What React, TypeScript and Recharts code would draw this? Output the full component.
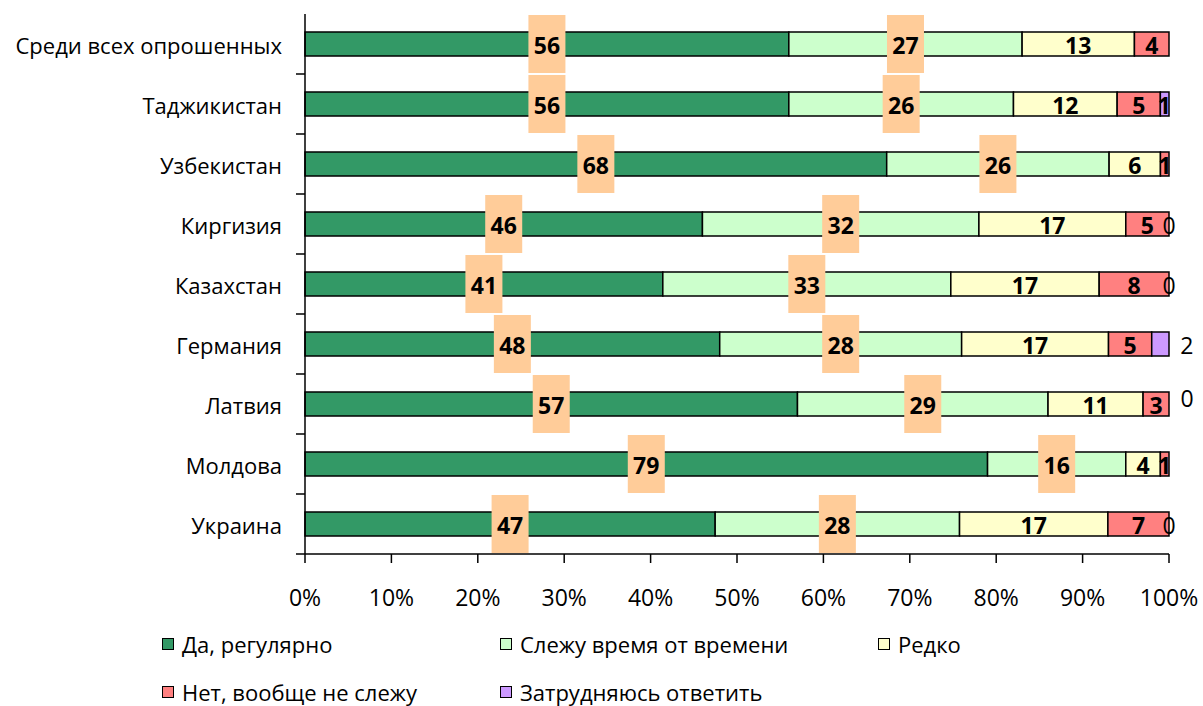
import { BarChart, Bar, XAxis, YAxis, LabelList } from "recharts"

// Категории и доли ответов (%)
const categories = [
  "Среди всех опрошенных",
  "Таджикистан",
  "Узбекистан",
  "Киргизия",
  "Казахстан",
  "Германия",
  "Латвия",
  "Молдова",
  "Украина",
]
const regularly = [56, 56, 68, 46, 41, 48, 57, 79, 47]
const sometimes = [27, 26, 26, 32, 33, 28, 29, 16, 28]
const rarely = [13, 12, 6, 17, 17, 17, 11, 4, 17]
const never = [4, 5, 1, 5, 8, 5, 3, 1, 7]
const unsure = [0, 1, 0, 0, 0, 2, 0, 0, 0]
// подписи последнего ряда (пусто = без подписи)
const unsureLabels = ["", "1", "", "0", "0", "2", "0", "", "0"]
const xTicks = [0, 0.1, 0.2, 0.3, 0.4, 0.5, 0.6, 0.7, 0.8, 0.9, 1]

const series = [
  { key: "regularly", name: "Да, регулярно", color: "#339966" },
  { key: "sometimes", name: "Слежу время от времени", color: "#CCFFCC" },
  { key: "rarely", name: "Редко", color: "#FFFFCC" },
  { key: "never", name: "Нет, вообще не слежу", color: "#FF8080" },
  { key: "unsure", name: "Затрудняюсь ответить", color: "#CC99FF" },
]

const data = categories.map((name, i) => ({
  name,
  regularly: regularly[i],
  sometimes: sometimes[i],
  rarely: rarely[i],
  never: never[i],
  unsure: unsure[i],
  unsureLabel: unsureLabels[i],
}))

const FONT = "'Open Sans', 'Noto Sans', sans-serif"
const PLOT_LEFT = 305
const BAND = 60

// нулевые сегменты Recharts не рисует, поэтому подписи последнего ряда
// ставятся от правого края красного сегмента (смещение в px)
const unsureDx: Record<number, number> = { 1: 4, 5: 35, 6: 18 }
const unsureDy: Record<number, number> = { 6: -7 }

function geom(props: any) {
  const vb = props.viewBox || {}
  const x = props.x ?? vb.x ?? 0
  const y = props.y ?? vb.y ?? 0
  const w = props.width ?? vb.width ?? 0
  const h = props.height ?? vb.height ?? 0
  return { x, y, w, h, cx: x + w / 2, cy: y + h / 2 }
}

function BoxLabel(props: any) {
  const { cx, cy } = geom(props)
  return (
    <g>
      <rect x={cx - 18.5} y={cy - 29} width={37} height={58} fill="#FFCC99" />
      <text
        x={cx}
        y={cy + 1}
        textAnchor="middle"
        dominantBaseline="central"
        fontFamily={FONT}
        fontSize={23}
        fontWeight="bold"
        fill="#000"
      >
        {props.value}
      </text>
    </g>
  )
}

function PlainLabel(props: any) {
  const { cx, cy } = geom(props)
  return (
    <text
      x={cx}
      y={cy + 1}
      textAnchor="middle"
      dominantBaseline="central"
      fontFamily={FONT}
      fontSize={23}
      fontWeight="bold"
      fill="#000"
    >
      {props.value}
    </text>
  )
}

function UnsureLabel(props: any) {
  const idx = props.index
  const text = props.value
  if (!text) return null
  const { x, w, cy } = geom(props)
  return (
    <text
      x={x + w + (unsureDx[idx] || 0)}
      y={cy + 1 + (unsureDy[idx] || 0)}
      textAnchor="middle"
      dominantBaseline="central"
      fontFamily={FONT}
      fontSize={23}
      fontWeight={idx === 1 ? "bold" : "normal"}
      fill="#000"
    >
      {text}
    </text>
  )
}

function CategoryTick(props: any) {
  const { y, payload } = props
  return (
    <g>
      <text
        x={PLOT_LEFT - 23}
        y={y + 1}
        textAnchor="end"
        dominantBaseline="central"
        fontFamily={FONT}
        fontSize={22}
        fill="#000"
      >
        {payload.value}
      </text>
      <line x1={PLOT_LEFT - 9} x2={PLOT_LEFT} y1={y + BAND / 2} y2={y + BAND / 2} stroke="#000" strokeWidth={1.5} />
    </g>
  )
}

function Legend() {
  const pos = [
    { left: 162, top: 644 },
    { left: 500, top: 644 },
    { left: 878, top: 644 },
    { left: 162, top: 692 },
    { left: 500, top: 692 },
  ]
  return (
    <>
      {series.map((s, i) => (
        <div
          key={s.key}
          style={{
            position: "absolute",
            left: pos[i].left,
            top: pos[i].top - 16,
            height: 32,
            display: "flex",
            alignItems: "center",
            fontFamily: FONT,
            fontSize: 22,
            whiteSpace: "nowrap",
            color: "#000",
          }}
        >
          <span
            style={{
              display: "inline-block",
              width: 10,
              height: 10,
              background: s.color,
              border: "1.5px solid #000",
              marginRight: 8,
            }}
          />
          {s.name}
        </div>
      ))}
    </>
  )
}

export default function App() {
  return (
    <div style={{ position: "absolute", left: 0, top: 0, width: 1203, height: 706, background: "#fff" }}>
      <BarChart
        width={1203}
        height={706}
        data={data}
        layout="vertical"
        stackOffset="expand"
        barSize={24}
        margin={{ top: 14, right: 34, left: 0, bottom: 122 }}
      >
        <XAxis
          type="number"
          domain={[0, 1]}
          ticks={xTicks}
          tickFormatter={(v: number) => `${Math.round(v * 100)}%`}
          axisLine={{ stroke: "#000", strokeWidth: 1.5 }}
          tickLine={{ stroke: "#000", strokeWidth: 1.5 }}
          tickSize={9}
          tickMargin={27}
          tick={{ fill: "#000", fontSize: 23, fontFamily: FONT }}
          height={30}
          interval={0}
        />
        <YAxis
          type="category"
          dataKey="name"
          width={PLOT_LEFT}
          axisLine={{ stroke: "#000", strokeWidth: 1.5 }}
          tickLine={false}
          tick={<CategoryTick />}
          interval={0}
        />
        {series.map((s) => (
          <Bar
            key={s.key}
            dataKey={s.key}
            name={s.name}
            stackId="a"
            fill={s.color}
            stroke="#000"
            strokeWidth={1.5}
            isAnimationActive={false}
          >
            {s.key === "regularly" || s.key === "sometimes" ? (
              <LabelList dataKey={s.key} content={<BoxLabel />} />
            ) : s.key === "never" ? (
              [
                <LabelList key="v" dataKey={s.key} content={<PlainLabel />} />,
                <LabelList key="u" dataKey="unsureLabel" content={<UnsureLabel />} />,
              ]
            ) : s.key === "rarely" ? (
              <LabelList dataKey={s.key} content={<PlainLabel />} />
            ) : null}
          </Bar>
        ))}
      </BarChart>
      <Legend />
    </div>
  )
}
